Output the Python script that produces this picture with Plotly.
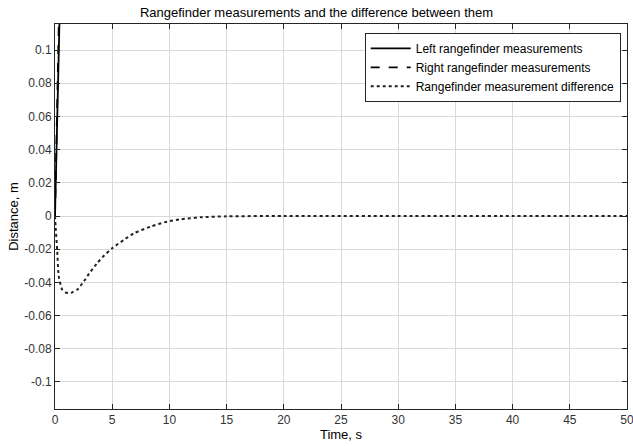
import plotly.graph_objects as go

# Data
t_lines = [0, 0.1, 0.2, 0.3, 0.4, 0.5, 0.6]
left_vals = [0, 0.03, 0.06, 0.09, 0.12, 0.15, 0.18]
right_vals = [0, 0.035, 0.07, 0.105, 0.14, 0.175, 0.21]

t_diff = [0, 0.05, 0.19, 0.33, 0.63, 0.9, 1.2, 1.5, 1.94, 2.52, 3.0, 3.69, 4.3, 5.0, 6.0, 6.9, 8.35, 9.8, 11.0, 12.7, 15.0, 20, 30, 40, 50]
diff_vals = [0, -0.006, -0.0204, -0.0364, -0.0444, -0.0460, -0.0464, -0.0460, -0.0444, -0.0394, -0.0345, -0.0284, -0.0238, -0.0194, -0.0145, -0.0104, -0.0064, -0.0034, -0.0020, -0.0008, -0.0002, 0, 0, 0, 0]

x_ticks = list(range(0, 51, 5))
y_ticks = [-0.1, -0.08, -0.06, -0.04, -0.02, 0, 0.02, 0.04, 0.06, 0.08, 0.1]
y_tick_labels = ["-0.1", "-0.08", "-0.06", "-0.04", "-0.02", "0", "0.02", "0.04", "0.06", "0.08", "0.1"]

font_family = "Liberation Sans, Arial, sans-serif"

fig = go.Figure()
fig.add_trace(go.Scatter(x=t_lines, y=left_vals, mode="lines", name="Left rangefinder measurements",
                         line=dict(color="black", width=1.8, dash="solid")))
fig.add_trace(go.Scatter(x=t_lines, y=right_vals, mode="lines", name="Right rangefinder measurements",
                         line=dict(color="black", width=1.8, dash="dash")))
fig.add_trace(go.Scatter(x=t_diff, y=diff_vals, mode="lines", name="Rangefinder measurement difference",
                         line=dict(color="#222222", width=2, dash="dot", shape="spline", smoothing=0.6)))

axis_common = dict(
    showgrid=True, gridcolor="#d9d9d9", gridwidth=1,
    showline=True, linecolor="#262626", linewidth=1, mirror="ticks",
    ticks="inside", ticklen=5, tickcolor="#262626",
    zeroline=False, automargin=False, ticklabeloverflow="allow",
    tickfont=dict(family=font_family, size=12, color="#333333"),
)

fig.update_layout(
    width=633, height=446,
    margin=dict(l=55, r=6, t=24, b=37),
    paper_bgcolor="white", plot_bgcolor="white",
    title=dict(text="Rangefinder measurements and the difference between them",
               x=0.5, xanchor="center", y=1 - 12 / 446, yanchor="middle",
               font=dict(family=font_family, size=13, color="black")),
    xaxis=dict(range=[0, 50], tickvals=x_ticks,
               title=dict(text="Time, s", font=dict(family=font_family, size=13, color="black"), standoff=2),
               **axis_common),
    yaxis=dict(range=[-0.1163, 0.1157], tickvals=y_ticks, ticktext=y_tick_labels,
               title=dict(text="Distance, m", font=dict(family=font_family, size=13, color="black"), standoff=2),
               **axis_common),
    legend=dict(x=0.989, y=0.977, xanchor="right", yanchor="top",
                bgcolor="white", bordercolor="#262626", borderwidth=1,
                font=dict(family=font_family, size=12, color="black"),
                tracegroupgap=0, itemwidth=40),
    showlegend=True,
)

fig.write_html("out.html", config={"displayModeBar": False},
               post_script="document.body.style.margin='0px';")
